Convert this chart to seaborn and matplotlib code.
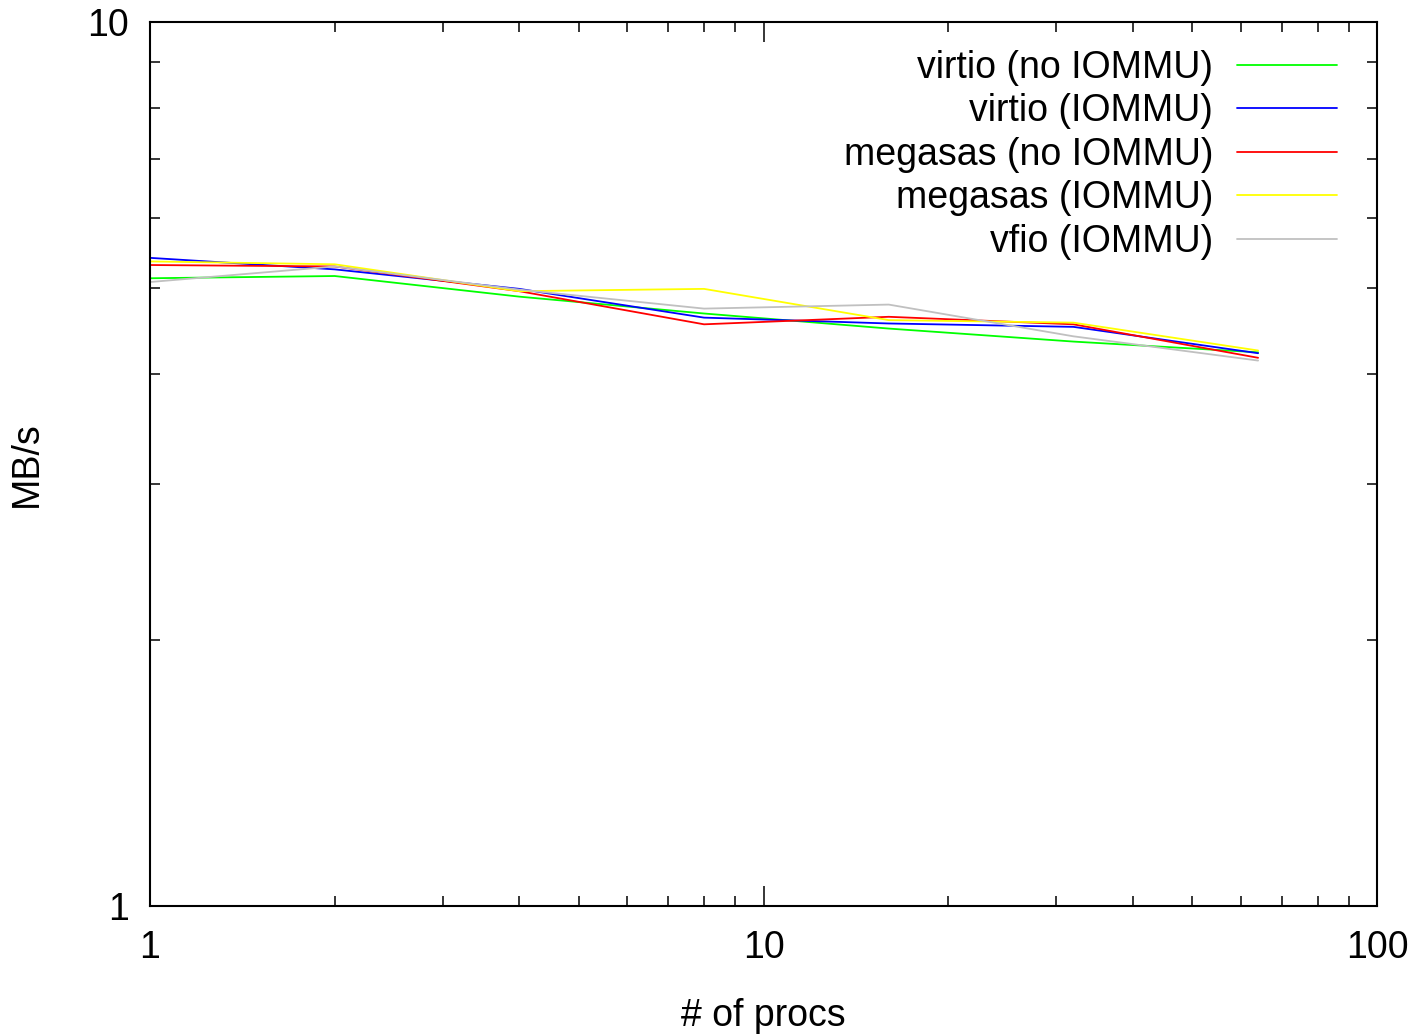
import numpy as np
import pandas as pd
import matplotlib
matplotlib.use("Agg")
import matplotlib.pyplot as plt
import seaborn as sns
from matplotlib.ticker import LogLocator, FixedLocator, NullFormatter

procs = [1, 2, 4, 8, 16, 32, 64]
virtio_no_iommu = [5.13, 5.16, 4.89, 4.68, 4.50, 4.35, 4.23]
virtio_iommu = [5.41, 5.25, 4.99, 4.63, 4.56, 4.52, 4.22]
megasas_no_iommu = [5.31, 5.29, 4.96, 4.55, 4.64, 4.55, 4.17]
megasas_iommu = [5.36, 5.32, 4.96, 4.99, 4.60, 4.57, 4.25]
vfio_iommu = [5.08, 5.29, 4.98, 4.74, 4.79, 4.41, 4.14]

series_names = ["virtio (no IOMMU)", "virtio (IOMMU)", "megasas (no IOMMU)",
                "megasas (IOMMU)", "vfio (IOMMU)"]
series_values = [virtio_no_iommu, virtio_iommu, megasas_no_iommu, megasas_iommu, vfio_iommu]
colors = ["#00ff00", "#0000ff", "#ff0000", "#ffff00", "#c0c0c0"]

rows = []
for name, vals in zip(series_names, series_values):
    for p, v in zip(procs, vals):
        rows.append({"procs": p, "MB/s": v, "series": name})
df = pd.DataFrame(rows)

sns.set_style("white")
plt.rcParams['font.family'] = ['Liberation Sans', 'DejaVu Sans']
plt.rcParams['text.color'] = 'black'
plt.rcParams['axes.labelcolor'] = 'black'
plt.rcParams['xtick.color'] = 'black'
plt.rcParams['ytick.color'] = 'black'

FS = 27

fig = plt.figure(figsize=(14.15, 10.35), dpi=100)
ax = fig.add_axes([150/1415, 1-906/1035, (1377-150)/1415, (906-22)/1035])

sns.lineplot(data=df, x="procs", y="MB/s", hue="series", hue_order=series_names,
             palette=dict(zip(series_names, colors)), linewidth=1.3, ax=ax,
             estimator=None, sort=False)

ax.set_xscale("log")
ax.set_yscale("log")
ax.set_xlim(1, 100)
ax.set_ylim(1, 10)

ax.xaxis.set_major_locator(FixedLocator([1, 10, 100]))
ax.yaxis.set_major_locator(FixedLocator([1, 10]))
ax.xaxis.set_minor_locator(LogLocator(base=10, subs=np.arange(2, 10)))
ax.yaxis.set_minor_locator(LogLocator(base=10, subs=np.arange(2, 10)))
ax.xaxis.set_minor_formatter(NullFormatter())
ax.yaxis.set_minor_formatter(NullFormatter())
ax.set_xticklabels(["1", "10", "100"])
ax.set_yticklabels(["1", "10"])

ax.tick_params(which="both", direction="in", top=True, right=True, bottom=True, left=True,
               color="black", labelsize=FS, width=1.1, labelcolor="black")
ax.tick_params(which="major", length=14.4)
ax.tick_params(which="minor", length=7.2)
ax.tick_params(axis="x", which="major", pad=17)
ax.tick_params(axis="y", which="major", pad=15)

for s in ax.spines.values():
    s.set_color("black")
    s.set_linewidth(1.5)

ax.set_xlabel("# of procs", fontsize=FS)
ax.set_ylabel("MB/s", fontsize=FS)
ax.xaxis.set_label_coords(0.5, -0.104)
ax.yaxis.set_label_coords(-0.086, 0.5)

leg = ax.legend(loc="upper right", frameon=False, markerfirst=False, fontsize=FS,
                handlelength=100/37.5, labelspacing=0.2, handletextpad=24/37.5,
                bbox_to_anchor=((1337-150)/1227, (906-50)/884), borderaxespad=0,
                borderpad=0)
for line in leg.get_lines():
    line.set_linewidth(1.3)
for t in leg.get_texts():
    t.set_color("black")

fig.savefig("out.png", dpi=100, facecolor="white")
